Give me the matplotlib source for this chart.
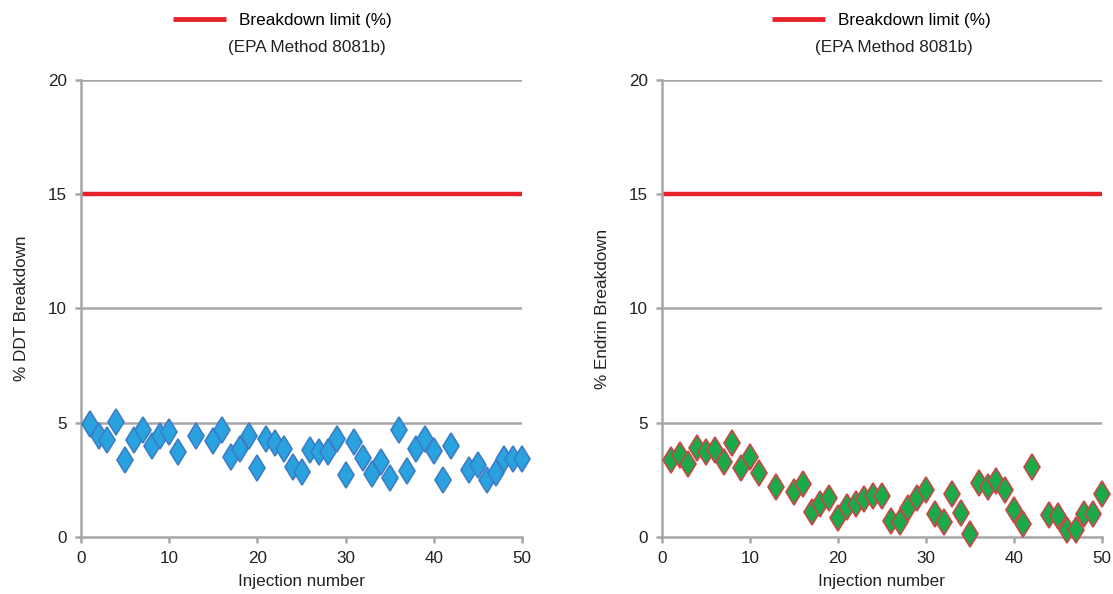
import matplotlib as mpl
mpl.use("Agg")
import matplotlib.pyplot as plt
from matplotlib.lines import Line2D

plt.rcParams["font.family"] = ["Liberation Sans", "DejaVu Sans"]

# injection numbers (12, 14 and 43 are absent in both series)
injections = [1, 2, 3, 4, 5, 6, 7, 8, 9, 10, 11, 13, 15, 16, 17, 18, 19, 20,
              21, 22, 23, 24, 25, 26, 27, 28, 29, 30, 31, 32, 33, 34, 35, 36,
              37, 38, 39, 40, 41, 42, 44, 45, 46, 47, 48, 49, 50]
ddt_breakdown = [4.95, 4.4, 4.25, 5.05, 3.35, 4.25, 4.7, 4.0, 4.4, 4.6, 3.7,
                 4.4, 4.2, 4.7, 3.5, 3.85, 4.4, 3.0, 4.3, 4.1, 3.85, 3.05,
                 2.85, 3.8, 3.7, 3.7, 4.3, 2.7, 4.15, 3.45, 2.75, 3.3, 2.6,
                 4.7, 2.9, 3.85, 4.3, 3.75, 2.5, 4.0, 2.95, 3.15, 2.5, 2.8,
                 3.4, 3.4, 3.4]
endrin_breakdown = [3.35, 3.6, 3.2, 3.9, 3.7, 3.8, 3.3, 4.1, 3.0, 3.5, 2.8,
                    2.2, 1.95, 2.3, 1.1, 1.45, 1.7, 0.85, 1.3, 1.45, 1.65,
                    1.8, 1.8, 0.7, 0.65, 1.25, 1.7, 2.05, 1.0, 0.65, 1.9,
                    1.05, 0.15, 2.35, 2.2, 2.45, 2.05, 1.2, 0.55, 3.05, 0.95,
                    0.9, 0.3, 0.3, 1.0, 1.0, 1.9]
limit = 15
x_ticks = [0, 10, 20, 30, 40, 50]
y_ticks = [0, 5, 10, 15, 20]

GRID = "#a6a6a6"
RED = "#e8222a"
TEXT = "#222222"
FS = 12.3

fig = plt.figure(figsize=(11.13, 5.94), dpi=100)
left_ax = fig.add_axes([0.0728, 0.096, 0.3962, 0.7694])
right_ax = fig.add_axes([0.5948, 0.096, 0.3953, 0.7694])

# axes, values, face, edge, y label, legend x, note x
panels = [
    (left_ax, ddt_breakdown, "#29a3e0", "#3d7cc4", "% DDT Breakdown", 0.457, 0.512),
    (right_ax, endrin_breakdown, "#1aaa4a", "#cc4448", "% Endrin Breakdown", 0.499, 0.528),
]

for ax, values, face, edge, ylabel, leg_x, note_x in panels:
    for y in y_ticks[1:]:
        ax.axhline(y, color=GRID, lw=1.8, zorder=1)
    ax.axhline(limit, color=RED, lw=3.2, zorder=2)
    ax.plot(injections, values, ls="none", marker="d", ms=13.5,
            mfc=face, mec=edge, mew=1.2, zorder=3, clip_on=False)

    ax.set_xlim(0, 50)
    ax.set_ylim(0, 20)
    ax.set_xticks(x_ticks)
    ax.set_yticks(y_ticks)
    for side in ("top", "right"):
        ax.spines[side].set_visible(False)
    for side in ("left", "bottom"):
        ax.spines[side].set_color(GRID)
        ax.spines[side].set_linewidth(1.8)
    ax.tick_params(colors=GRID, width=1.8, length=4, labelsize=FS,
                   labelcolor=TEXT, pad=6)
    ax.set_xlabel("Injection number", fontsize=FS, color=TEXT, labelpad=6)
    ax.set_ylabel(ylabel, fontsize=FS, color=TEXT, labelpad=14)

    handle = Line2D([], [], color=RED, lw=3.5, solid_capstyle="butt")
    ax.legend([handle], ["Breakdown limit (%)"], loc="center",
              bbox_to_anchor=(leg_x, 1.13), frameon=False, fontsize=FS,
              handlelength=3.1, handletextpad=0.75, borderaxespad=0)
    ax.text(note_x, 1.07, "(EPA Method 8081b)", transform=ax.transAxes,
            ha="center", va="center", fontsize=FS, color=TEXT)

fig.savefig("out.png", dpi=100)
